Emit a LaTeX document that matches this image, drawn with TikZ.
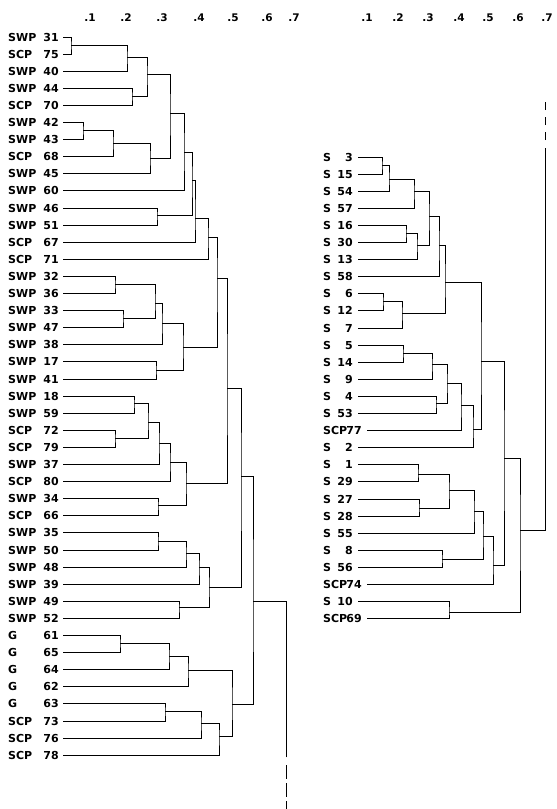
\documentclass[tikz,border=0pt]{standalone}
\usepackage{fontspec}
\setmainfont{DejaVu Sans}
\begin{document}
\begin{tikzpicture}[x=1pt,y=-1pt,
  lbl/.style={inner sep=0pt, font=\bfseries\fontsize{11}{13}\selectfont},
  ax/.style={inner sep=0pt, font=\bfseries\fontsize{10.5}{12}\selectfont},
  tree/.style={line width=0.9pt, line cap=rect},
  dashL/.style={line width=0.9pt, dash pattern=on 14pt off 4pt},
  dashR/.style={line width=0.9pt, dash pattern=on 8pt off 7pt}]
\useasboundingbox[fill=white] (0,0) rectangle (557,809);
% axes
\foreach \t/\x [count=\k] in {.1/90,.2/126,.3/162,.4/199,.5/233,.6/267,.7/294}
  \node[ax] (axl\k) at (\x,18) {\t};
\foreach \t/\x [count=\k] in {.1/367,.2/398,.3/428,.4/459,.5/488,.6/518,.7/547}
  \node[ax] (axr\k) at (\x,18) {\t};
% left leaves
\foreach \g/\n [count=\i from 0] in {SWP/31,SCP/75,SWP/40,SWP/44,SCP/70,SWP/42,SWP/43,SCP/68,SWP/45,SWP/60,SWP/46,SWP/51,SCP/67,SCP/71,SWP/32,SWP/36,SWP/33,SWP/47,SWP/38,SWP/17,SWP/41,SWP/18,SWP/59,SCP/72,SCP/79,SWP/37,SCP/80,SWP/34,SCP/66,SWP/35,SWP/50,SWP/48,SWP/39,SWP/49,SWP/52,G/61,G/65,G/64,G/62,G/63,SCP/73,SCP/76,SCP/78}{
  \node[lbl,anchor=west] (gL\n) at (8,37+17.1*\i) {\g};
  \node[lbl,anchor=east] (L\n) at (59,37+17.1*\i) {\n};
  \coordinate (l\n) at ([xshift=4pt]L\n.east);
}
% right leaves
\foreach \g/\n/\e [count=\i from 0] in {S/3/353,S/15/353,S/54/353,S/57/353,S/16/353,S/30/353,S/13/353,S/58/353,S/6/353,S/12/353,S/7/353,S/5/353,S/14/353,S/9/353,S/4/353,S/53/353,SCP/77/362,S/2/353,S/1/353,S/29/353,S/27/353,S/28/353,S/55/353,S/8/353,S/56/353,SCP/74/362,S/10/353,SCP/69/362}{
  \node[lbl,anchor=west] (gR\n) at (323,157+17.1*\i) {\g};
  \node[lbl,anchor=east] (R\n) at (\e,157+17.1*\i) {\n};
  \coordinate (r\n) at ([xshift=5pt]R\n.east);
}
% left merges
\coordinate (a1) at (71,45);   \coordinate (a2) at (127,57);
\coordinate (a3) at (132,96);  \coordinate (a4) at (147,74);
\coordinate (a5) at (83,130);  \coordinate (a6) at (113,143);
\coordinate (a7) at (150,158); \coordinate (a8) at (170,113);
\coordinate (a9) at (184,152); \coordinate (a10) at (157,215);
\coordinate (a11) at (192,180);\coordinate (a12) at (195,218);
\coordinate (a13) at (208,237);
\coordinate (b1) at (115,284); \coordinate (b2) at (123,318);
\coordinate (b3) at (155,303); \coordinate (b4) at (162,323);
\coordinate (b5) at (156,370); \coordinate (b6) at (183,347);
\coordinate (a14) at (217,278);
\coordinate (c1) at (134,403); \coordinate (c2) at (115,438);
\coordinate (c3) at (148,422); \coordinate (c4) at (159,443);
\coordinate (c5) at (170,462); \coordinate (c6) at (158,505);
\coordinate (c7) at (186,483);
\coordinate (a15) at (227,388);
\coordinate (d1) at (158,541); \coordinate (d2) at (186,553);
\coordinate (d3) at (199,567); \coordinate (d4) at (179,607);
\coordinate (d5) at (209,587);
\coordinate (a16) at (241,476);
\coordinate (e1) at (120,643); \coordinate (e2) at (169,656);
\coordinate (e3) at (188,670); \coordinate (e4) at (165,711);
\coordinate (e5) at (201,723); \coordinate (e6) at (219,736);
\coordinate (e7) at (232,704);
\coordinate (a17) at (253,601);
\coordinate (lroot) at (286,601); \coordinate (lrootend) at (286,757);
\coordinate (ldash1) at (286,765); \coordinate (ldash2) at (286,809);
\begin{scope}[tree]
\draw (l31) -| (a1) |- (l75);
\draw (a1) -| (a2) |- (l40);
\draw (l44) -| (a3) |- (l70);
\draw (a2) -| (a4) |- (a3);
\draw (l42) -| (a5) |- (l43);
\draw (a5) -| (a6) |- (l68);
\draw (a6) -| (a7) |- (l45);
\draw (a4) -| (a8) |- (a7);
\draw (a8) -| (a9) |- (l60);
\draw (l46) -| (a10) |- (l51);
\draw (a9) -| (a11) |- (a10);
\draw (a11) -| (a12) |- (l67);
\draw (a12) -| (a13) |- (l71);
\draw (l32) -| (b1) |- (l36);
\draw (l33) -| (b2) |- (l47);
\draw (b1) -| (b3) |- (b2);
\draw (b3) -| (b4) |- (l38);
\draw (l17) -| (b5) |- (l41);
\draw (b4) -| (b6) |- (b5);
\draw (a13) -| (a14) |- (b6);
\draw (l18) -| (c1) |- (l59);
\draw (l72) -| (c2) |- (l79);
\draw (c1) -| (c3) |- (c2);
\draw (c3) -| (c4) |- (l37);
\draw (c4) -| (c5) |- (l80);
\draw (l34) -| (c6) |- (l66);
\draw (c5) -| (c7) |- (c6);
\draw (a14) -| (a15) |- (c7);
\draw (l35) -| (d1) |- (l50);
\draw (d1) -| (d2) |- (l48);
\draw (d2) -| (d3) |- (l39);
\draw (l49) -| (d4) |- (l52);
\draw (d3) -| (d5) |- (d4);
\draw (a15) -| (a16) |- (d5);
\draw (l61) -| (e1) |- (l65);
\draw (e1) -| (e2) |- (l64);
\draw (e2) -| (e3) |- (l62);
\draw (l63) -| (e4) |- (l73);
\draw (e4) -| (e5) |- (l76);
\draw (e5) -| (e6) |- (l78);
\draw (e3) -| (e7) |- (e6);
\draw (a16) -| (a17) |- (e7);
\draw (a17) -- (lroot) -- (lrootend);
\end{scope}
\draw[dashL] (ldash1) -- (ldash2);
% right merges
\coordinate (m1) at (382,165);  \coordinate (m2) at (389,179);
\coordinate (m3) at (414,191);  \coordinate (m4) at (406,233);
\coordinate (m5) at (417,245);  \coordinate (m6) at (429,216);
\coordinate (m7) at (439,245);  \coordinate (m8) at (383,301);
\coordinate (m9) at (402,313);  \coordinate (m10) at (445,282);
\coordinate (m11) at (403,353); \coordinate (m12) at (432,364);
\coordinate (m13) at (436,403); \coordinate (m14) at (447,383);
\coordinate (m15) at (461,405); \coordinate (m16) at (473,429);
\coordinate (m17) at (481,361); \coordinate (m18) at (418,474);
\coordinate (m19) at (419,508); \coordinate (m20) at (449,490);
\coordinate (m21) at (474,511); \coordinate (m22) at (442,559);
\coordinate (m23) at (483,536); \coordinate (m24) at (493,565);
\coordinate (m25) at (504,458); \coordinate (m26) at (449,612);
\coordinate (m27) at (520,530);
\coordinate (rroot) at (545,530); \coordinate (rroottop) at (545,148);
\coordinate (rdash1) at (545,140); \coordinate (rdash2) at (545,97);
\begin{scope}[tree]
\draw (r3) -| (m1) |- (r15);
\draw (m1) -| (m2) |- (r54);
\draw (m2) -| (m3) |- (r57);
\draw (r16) -| (m4) |- (r30);
\draw (m4) -| (m5) |- (r13);
\draw (m3) -| (m6) |- (m5);
\draw (m6) -| (m7) |- (r58);
\draw (r6) -| (m8) |- (r12);
\draw (m8) -| (m9) |- (r7);
\draw (m7) -| (m10) |- (m9);
\draw (r5) -| (m11) |- (r14);
\draw (m11) -| (m12) |- (r9);
\draw (r4) -| (m13) |- (r53);
\draw (m12) -| (m14) |- (m13);
\draw (m14) -| (m15) |- (r77);
\draw (m15) -| (m16) |- (r2);
\draw (m10) -| (m17) |- (m16);
\draw (r1) -| (m18) |- (r29);
\draw (r27) -| (m19) |- (r28);
\draw (m18) -| (m20) |- (m19);
\draw (m20) -| (m21) |- (r55);
\draw (r8) -| (m22) |- (r56);
\draw (m21) -| (m23) |- (m22);
\draw (m23) -| (m24) |- (r74);
\draw (m17) -| (m25) |- (m24);
\draw (r10) -| (m26) |- (r69);
\draw (m25) -| (m27) |- (m26);
\draw (m27) -- (rroot) -- (rroottop);
\end{scope}
\draw[dashR] (rdash1) -- (rdash2);
\end{tikzpicture}
\end{document}
